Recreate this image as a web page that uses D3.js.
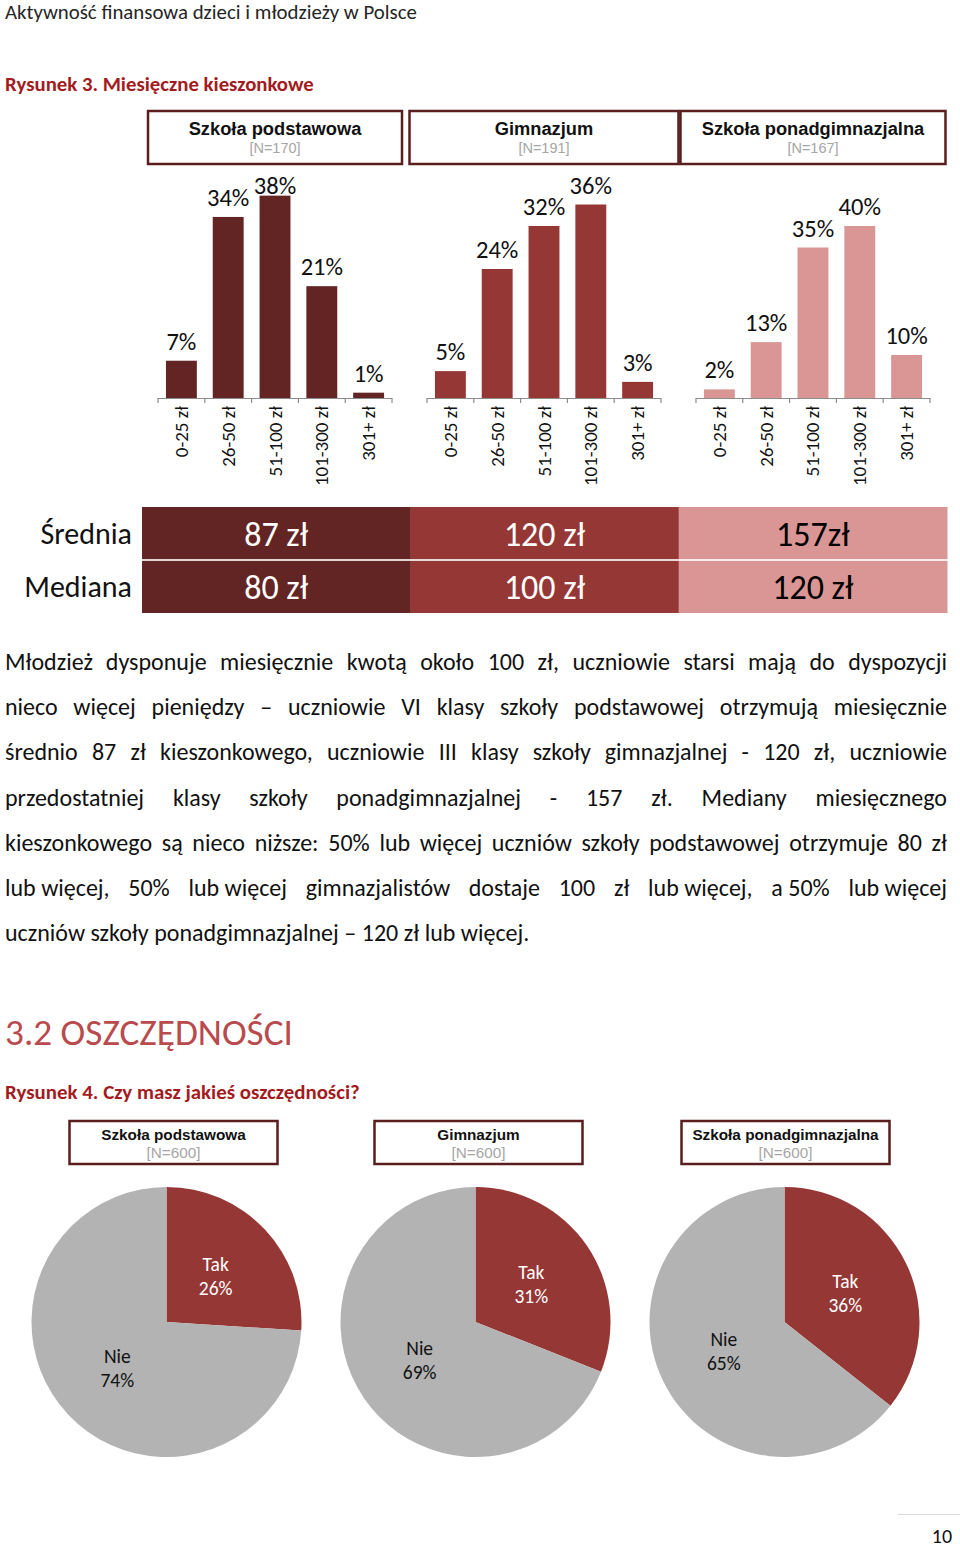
<!DOCTYPE html>
<html><head><meta charset="utf-8">
<script src="https://cdn.jsdelivr.net/npm/d3@7"></script>
<style>html,body{margin:0;padding:0;background:#fff;}svg{display:block;}</style>
</head><body>
<script>
// ---------------- DATA ----------------
const pageHeader = "Aktywność finansowa dzieci i młodzieży w Polsce";
const fig3Title = "Rysunek 3. Miesięczne kieszonkowe";
const schools = ["Szkoła podstawowa", "Gimnazjum", "Szkoła ponadgimnazjalna"];
const pocketSample = [170, 191, 167];
const categories = ["0-25 zł", "26-50 zł", "51-100 zł", "101-300 zł", "301+ zł"];
const primaryShares = [7, 34, 38, 21, 1];
const gymnasiumShares = [5, 24, 32, 36, 3];
const secondaryShares = [2, 13, 35, 40, 10];
const statRows = ["Średnia", "Mediana"];
const meanLabels = ["87 zł", "120 zł", "157zł"];
const medianLabels = ["80 zł", "100 zł", "120 zł"];
const paragraphLines = [
  "Młodzież dysponuje miesięcznie kwotą około 100 zł, uczniowie starsi mają do dyspozycji",
  "nieco więcej pieniędzy – uczniowie VI klasy szkoły podstawowej otrzymują miesięcznie",
  "średnio 87 zł kieszonkowego, uczniowie III klasy szkoły gimnazjalnej - 120 zł, uczniowie",
  "przedostatniej klasy szkoły ponadgimnazjalnej - 157 zł. Mediany miesięcznego",
  "kieszonkowego są nieco niższe: 50% lub więcej uczniów szkoły podstawowej otrzymuje 80 zł",
  "lub\u00a0więcej, 50% lub\u00a0więcej gimnazjalistów dostaje 100 zł lub\u00a0więcej, a\u00a050% lub\u00a0więcej",
  "uczniów szkoły ponadgimnazjalnej – 120 zł lub więcej."
];
const sectionTitle = "3.2 OSZCZĘDNOŚCI";
const fig4Title = "Rysunek 4. Czy masz jakieś oszczędności?";
const savingsSample = [600, 600, 600];
const pieLabels = ["Tak", "Nie"];
const savingsYes = [26, 31, 36];
const savingsNo = [74, 69, 65];
const pageNumber = "10";

// ---------------- STYLE ----------------
const F = "Carlito, Lato, 'Open Sans', sans-serif";
const A = "'Liberation Sans', Arial, Helvetica, sans-serif";
const schoolColors = ["#632523", "#953735", "#d99694"];
const statTextColors = ["#ffffff", "#ffffff", "#000000"];
const red = "#a31b21";
const boxStroke = "#5a1e1e";

const W = 960, H = 1547;
const svg = d3.select("body").append("svg").attr("width", W).attr("height", H);

function fitWidth(sel, w) {
  const cur = sel.node().getComputedTextLength();
  const fs = parseFloat(sel.attr("font-size"));
  sel.attr("font-size", fs * w / cur);
  return sel;
}

// header
fitWidth(svg.append("text").attr("x", 5).attr("y", 19).attr("font-family", F)
  .attr("font-size", 19).attr("fill", "#262626").text(pageHeader), 412);
fitWidth(svg.append("text").attr("x", 5).attr("y", 91).attr("font-family", F)
  .attr("font-weight", "bold").attr("font-size", 19).attr("fill", red).text(fig3Title), 309);

// ---------------- BAR PANELS ----------------
const panelX = d3.scaleBand().domain(schools).range([158, 930]).paddingInner(0.13);
const panelW = panelX.bandwidth();
const boxW = [254, 269, 265];
const shares = [primaryShares, gymnasiumShares, secondaryShares];
const yMax = [40, 40, 50];
const yPix = [213, 215, 215];
const axisY = 398;

schools.forEach((s, i) => {
  const cx = panelX(s) + panelW / 2;
  const g = svg.append("g");
  g.append("rect").attr("x", cx - boxW[i] / 2).attr("y", 111).attr("width", boxW[i]).attr("height", 53)
    .attr("fill", "#fff").attr("stroke", boxStroke).attr("stroke-width", 2.5);
  g.append("text").attr("x", cx).attr("y", 135).attr("text-anchor", "middle").attr("font-family", A)
    .attr("font-weight", "bold").attr("font-size", 18.3).attr("fill", "#111").text(s);
  g.append("text").attr("x", cx).attr("y", 153).attr("text-anchor", "middle").attr("font-family", A)
    .attr("font-size", 14.5).attr("fill", "#a6a6a6").text("[N=" + pocketSample[i] + "]");

  const x = d3.scaleBand().domain(categories).range([0, panelW]).paddingInner(0.34).paddingOuter(0.17);
  const y = d3.scaleLinear().domain([0, yMax[i]]).range([axisY, axisY - yPix[i]]);
  const pg = svg.append("g").attr("transform", `translate(${panelX(s)},0)`);
  const data = categories.map((c, k) => ({ c, v: shares[i][k] }));
  pg.selectAll("rect.bar").data(data).join("rect").attr("class", "bar")
    .attr("x", d => x(d.c)).attr("width", x.bandwidth())
    .attr("y", d => y(d.v)).attr("height", d => axisY - y(d.v))
    .attr("fill", schoolColors[i]);
  pg.selectAll("text.val").data(data).join("text").attr("class", "val")
    .attr("x", d => x(d.c) + x.bandwidth() / 2)
    .attr("y", d => Math.max(y(d.v) - 11, 194))
    .attr("text-anchor", "middle").attr("font-family", F).attr("font-size", 24.5).attr("fill", "#111")
    .text(d => d.v + "%");
  // axis
  pg.append("line").attr("x1", 0).attr("x2", panelW).attr("y1", axisY + 0.5).attr("y2", axisY + 0.5)
    .attr("stroke", "#8c8c8c").attr("stroke-width", 1.2);
  pg.selectAll("line.tick").data(d3.range(categories.length + 1)).join("line").attr("class", "tick")
    .attr("x1", k => k * x.step()).attr("x2", k => k * x.step())
    .attr("y1", axisY).attr("y2", axisY + 5).attr("stroke", "#8c8c8c").attr("stroke-width", 1.2);
  pg.selectAll("text.cat").data(categories).join("text").attr("class", "cat")
    .attr("transform", c => `translate(${x(c) + x.bandwidth() / 2},406) rotate(-90)`)
    .attr("text-anchor", "end").attr("dominant-baseline", "central")
    .attr("font-family", F).attr("font-size", 19).attr("fill", "#111").text(c => c);
});

// ---------------- STATS TABLE ----------------
const colX = d3.scaleBand().domain(schools).range([142, 947]);
const rowY = d3.scaleBand().domain(statRows).range([507, 613]).paddingInner(0.03);
const statValues = [meanLabels, medianLabels];
statRows.forEach((r, ri) => {
  svg.append("text").attr("x", 132).attr("y", rowY(r) + rowY.bandwidth() / 2)
    .attr("text-anchor", "end").attr("dominant-baseline", "central")
    .attr("font-family", F).attr("font-size", 30).attr("fill", "#111").text(r);
  schools.forEach((s, i) => {
    svg.append("rect").attr("x", colX(s)).attr("y", rowY(r)).attr("width", colX.bandwidth() + 0.5)
      .attr("height", rowY.bandwidth()).attr("fill", schoolColors[i]);
    svg.append("text").attr("x", colX(s) + colX.bandwidth() / 2).attr("y", rowY(r) + rowY.bandwidth() / 2 + 1)
      .attr("text-anchor", "middle").attr("dominant-baseline", "central")
      .attr("font-family", F).attr("font-size", 34).attr("fill", statTextColors[i]).text(statValues[ri][i]);
  });
});

// ---------------- PARAGRAPH ----------------
const paraLeft = 5, paraRight = 947, paraTop = 670, paraStep = 45.2;
const probe = svg.append("text").attr("font-family", F).attr("font-size", 20).text(paragraphLines[4]);
const probeW = probe.node().getComputedTextLength();
probe.remove();
const paraFs = Math.min(24, 20 * (paraRight - paraLeft - 4) / probeW);
paragraphLines.forEach((line, li) => {
  const words = line.split(" ");
  const t = svg.append("text").attr("font-family", F).attr("font-size", paraFs).attr("fill", "#111")
    .attr("y", paraTop + li * paraStep);
  const spans = words.map(w => t.append("tspan").text(w));
  const widths = spans.map(sp => sp.node().getComputedTextLength());
  const total = d3.sum(widths);
  const last = li === paragraphLines.length - 1;
  const gap = last ? paraFs * 0.23 : (paraRight - paraLeft - total) / (words.length - 1);
  let xx = paraLeft;
  spans.forEach((sp, k) => { sp.attr("x", xx); xx += widths[k] + gap; });
});

// ---------------- SECTION 3.2 ----------------
fitWidth(svg.append("text").attr("x", 5).attr("y", 1045).attr("font-family", F).attr("font-weight", 300)
  .attr("font-size", 32).attr("fill", "#b94a4d").text(sectionTitle), 288);
fitWidth(svg.append("text").attr("x", 5).attr("y", 1099).attr("font-family", F)
  .attr("font-weight", "bold").attr("font-size", 19).attr("fill", red).text(fig4Title), 355);

// ---------------- PIES ----------------
const pieX = d3.scaleBand().domain(schools).range([12, 939]);
const pieCy = 1322, R = 135;
const pieColors = ["#953735", "#b3b3b3"];
const pieTextColors = ["#ffffff", "#111111"];
const pie = d3.pie().sort(null).value(d => d.v);
const arc = d3.arc().innerRadius(0).outerRadius(R);
const pieBoxShift = [7, 3, 1];
schools.forEach((s, i) => {
  const cx = pieX(s) + pieX.bandwidth() / 2;
  const bx = cx + pieBoxShift[i];
  svg.append("rect").attr("x", bx - 104).attr("y", 1121).attr("width", 208).attr("height", 43)
    .attr("fill", "#fff").attr("stroke", boxStroke).attr("stroke-width", 2.5);
  svg.append("text").attr("x", bx).attr("y", 1140).attr("text-anchor", "middle").attr("font-family", A)
    .attr("font-weight", "bold").attr("font-size", 15.3).attr("fill", "#111").text(s);
  svg.append("text").attr("x", bx).attr("y", 1158).attr("text-anchor", "middle").attr("font-family", A)
    .attr("font-size", 15.3).attr("fill", "#a6a6a6").text("[N=" + savingsSample[i] + "]");

  const data = pie([{ k: 0, v: savingsYes[i] }, { k: 1, v: savingsNo[i] }]);
  const g = svg.append("g").attr("transform", `translate(${cx},${pieCy})`);
  g.selectAll("path").data(data).join("path").attr("d", arc).attr("fill", d => pieColors[d.data.k]);
  data.forEach(d => {
    const [lx, ly] = arc.centroid(d);
    const t = g.append("text").attr("text-anchor", "middle").attr("font-family", F)
      .attr("font-size", 19.5).attr("fill", pieTextColors[d.data.k]);
    t.append("tspan").attr("x", lx).attr("y", ly - 12).attr("dominant-baseline", "central").text(pieLabels[d.data.k]);
    t.append("tspan").attr("x", lx).attr("y", ly + 12).attr("dominant-baseline", "central").text(d.data.v + "%");
  });
});

// ---------------- FOOTER ----------------
svg.append("line").attr("x1", 898).attr("x2", 960).attr("y1", 1514.5).attr("y2", 1514.5)
  .attr("stroke", "#d9d9d9").attr("stroke-width", 1);
svg.append("text").attr("x", 942).attr("y", 1543).attr("text-anchor", "middle").attr("font-family", F)
  .attr("font-size", 20).attr("fill", "#111").text(pageNumber);
</script>
</body></html>
